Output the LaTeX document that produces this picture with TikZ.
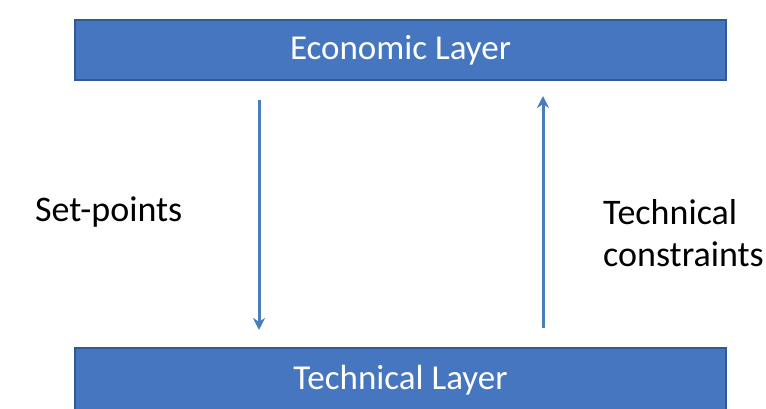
\documentclass[tikz,border=0pt]{standalone}
\usepackage{fontspec}
\setmainfont{Carlito}
\usetikzlibrary{arrows.meta}
\begin{document}
\begin{tikzpicture}[x=1pt,y=-1pt,
  layer/.style={draw=boxedge,fill=boxfill,line width=1.5pt,text=white,font=\fontsize{35}{40}\selectfont,minimum width=651pt,minimum height=60pt,inner sep=0pt},
  lbl/.style={font=\fontsize{36}{42}\selectfont,text=black,align=left,inner sep=0pt},
  flow/.style={draw=arrowc,line width=3pt,-{Stealth[length=12pt,width=12pt]}}]
\definecolor{boxfill}{HTML}{4576BF}
\definecolor{boxedge}{HTML}{2E5A96}
\definecolor{arrowc}{HTML}{4A7EBB}
\useasboundingbox (0,0) rectangle (766,409);
\node[layer] (eco) at (400.5,50) {Economic Layer};
\node[layer,minimum height=64pt] (tech) at (400.5,380) {Technical Layer};
\coordinate (a1) at (259,100);
\coordinate (a2) at (259,330);
\coordinate (b1) at (543,328);
\coordinate (b2) at (543,96);
\draw[flow] (a1) -- (a2);
\draw[flow] (b1) -- (b2);
\node[lbl,anchor=west] (sp) at (35,212) {Set-points};
\node[lbl,anchor=west] (tc) at (603,233) {Technical\\constraints};
\end{tikzpicture}
\end{document}
